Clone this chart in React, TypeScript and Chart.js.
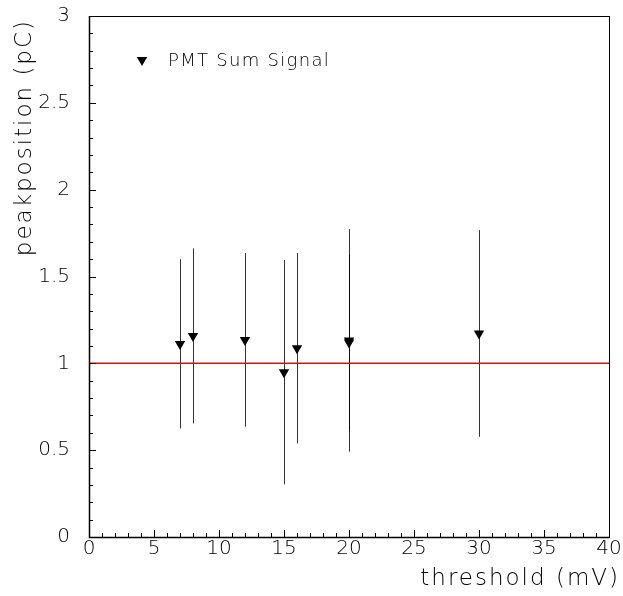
import React, { useEffect, useRef } from "react";
import { Chart, registerables } from "chart.js";

Chart.register(...registerables);

// ---- data ----
const thresholds = [7, 8, 12, 15, 16, 20, 20, 30];
const peakPositions = [1.112, 1.158, 1.135, 0.949, 1.087, 1.132, 1.12, 1.172];
const peakErrors = [0.487, 0.504, 0.5, 0.646, 0.548, 0.641, 0.509, 0.595];
const referenceX = [0, 40];
const referenceY = [1, 1];
const xTickLabels = ["0", "5", "10", "15", "20", "25", "30", "35", "40"];
const yTickLabels = ["0", "0.5", "1", "1.5", "2", "2.5", "3"];
const seriesLabel = "PMT Sum Signal";
const xTitle = "threshold (mV)";
const yTitle = "peakposition (pC)";

const FONT = "'DejaVu Sans', 'Liberation Sans', sans-serif";
const WEIGHT = "200";
const MARKER_R = 6;

function triangleDown(ctx: CanvasRenderingContext2D, x: number, y: number, r: number) {
  const w = r * Math.sin((2 * Math.PI) / 3);
  ctx.beginPath();
  ctx.moveTo(x, y + r);
  ctx.lineTo(x - w, y - r / 2);
  ctx.lineTo(x + w, y - r / 2);
  ctx.closePath();
  ctx.fill();
}

const rootPlugin = {
  id: "rootStyle",
  beforeDatasetsDraw(chart: any) {
    const ctx = chart.ctx as CanvasRenderingContext2D;
    const xs = chart.scales.x;
    const ys = chart.scales.y;
    ctx.save();
    ctx.strokeStyle = "rgba(0,0,0,0.8)";
    ctx.lineWidth = 1;
    for (let i = 0; i < thresholds.length; i++) {
      const px = Math.round(xs.getPixelForValue(thresholds[i])) + 0.5;
      const y1 = ys.getPixelForValue(peakPositions[i] + peakErrors[i]);
      const y2 = ys.getPixelForValue(peakPositions[i] - peakErrors[i]);
      ctx.beginPath();
      ctx.moveTo(px, y1);
      ctx.lineTo(px, y2);
      ctx.stroke();
    }
    ctx.restore();
  },
  afterDraw(chart: any) {
    const ctx = chart.ctx as CanvasRenderingContext2D;
    const { left, right, top, bottom } = chart.chartArea;
    const xs = chart.scales.x;
    const ys = chart.scales.y;
    ctx.save();
    ctx.strokeStyle = "#000";
    ctx.lineWidth = 1;
    // frame
    ctx.strokeRect(Math.round(left) + 0.5, Math.round(top) + 0.5, Math.round(right - left), Math.round(bottom - top));
    // ticks (inward) on bottom and left axes
    ctx.beginPath();
    for (let v = 0; v <= 40; v += 1) {
      const px = Math.round(xs.getPixelForValue(v)) + 0.5;
      const len = v % 5 === 0 ? 7 : 4;
      ctx.moveTo(px, bottom);
      ctx.lineTo(px, bottom - len);
    }
    for (let k = 0; k <= 30; k += 1) {
      const py = Math.round(ys.getPixelForValue(k / 10)) + 0.5;
      const len = k % 5 === 0 ? 7 : 4;
      ctx.moveTo(left, py);
      ctx.lineTo(left + len, py);
    }
    ctx.stroke();
    ctx.lineWidth = 1.5;
    ctx.beginPath();
    ctx.moveTo(Math.round(left) + 0.5, top);
    ctx.lineTo(Math.round(left) + 0.5, Math.round(bottom) + 0.5);
    ctx.lineTo(right, Math.round(bottom) + 0.5);
    ctx.stroke();

    ctx.fillStyle = "#000";
    // legend
    triangleDown(ctx, left + 53, top + 44, MARKER_R);
    ctx.font = `${WEIGHT} 18px ${FONT}`;
    (ctx as any).letterSpacing = "1.3px";
    ctx.textAlign = "left";
    ctx.textBaseline = "middle";
    ctx.fillText(seriesLabel, left + 79, top + 45);

    // axis titles
    ctx.font = `${WEIGHT} 23px ${FONT}`;
    (ctx as any).letterSpacing = "2px";
    ctx.textBaseline = "alphabetic";
    ctx.textAlign = "right";
    ctx.fillText(xTitle, right + 11, 585);
    ctx.save();
    ctx.translate(31, top + 3);
    ctx.rotate(-Math.PI / 2);
    ctx.textAlign = "right";
    ctx.fillText(yTitle, 0, 0);
    ctx.restore();
    ctx.restore();
  },
};

export default function App() {
  const ref = useRef<HTMLCanvasElement | null>(null);
  useEffect(() => {
    if (!ref.current) return;
    const chart = new Chart(ref.current, {
      type: "scatter",
      data: {
        datasets: [
          {
            type: "line",
            label: "reference",
            data: referenceX.map((x, i) => ({ x, y: referenceY[i] })),
            borderColor: "rgb(255,0,0)",
            backgroundColor: "rgb(255,0,0)",
            borderWidth: 1.5,
            pointRadius: 0,
            fill: false,
            order: 2,
          } as any,
          {
            label: seriesLabel,
            data: thresholds.map((x, i) => ({ x, y: peakPositions[i] })),
            pointStyle: "triangle",
            rotation: 180,
            pointRadius: MARKER_R,
            pointBorderWidth: 0,
            backgroundColor: "#000",
            borderColor: "#000",
            order: 1,
          },
        ],
      },
      options: {
        animation: false,
        responsive: false,
        devicePixelRatio: 1,
        layout: { padding: { left: 0, right: 14, top: 16, bottom: 0 } },
        plugins: { legend: { display: false }, tooltip: { enabled: false } },
        scales: {
          x: {
            type: "linear",
            min: 0,
            max: 40,
            afterFit: (s: any) => {
              s.height = 59;
              s.paddingLeft = 0;
              s.paddingRight = 0;
            },
            grid: { display: false, drawTicks: false },
            border: { display: false },
            ticks: {
              stepSize: 5,
              autoSkip: false,
              maxRotation: 0,
              padding: 2,
              color: "#000",
              font: { family: FONT, size: 20, weight: WEIGHT, lineHeight: 1 },
              callback: (_v: any, i: number) => xTickLabels[i],
            },
          },
          y: {
            type: "linear",
            min: 0,
            max: 3,
            afterFit: (s: any) => {
              s.width = 89;
              s.paddingTop = 0;
              s.paddingBottom = 0;
            },
            grid: { display: false, drawTicks: false },
            border: { display: false },
            ticks: {
              stepSize: 0.5,
              autoSkip: false,
              padding: 19,
              color: "#000",
              font: { family: FONT, size: 20, weight: WEIGHT, lineHeight: 1 },
              callback: (_v: any, i: number) => yTickLabels[i],
            },
          },
        },
      },
      plugins: [rootPlugin],
    });
    return () => chart.destroy();
  }, []);
  return (
    <div style={{ position: "absolute", left: 0, top: 0, width: 623, height: 596, background: "#fff" }}>
      <canvas ref={ref} width={623} height={596} />
    </div>
  );
}
